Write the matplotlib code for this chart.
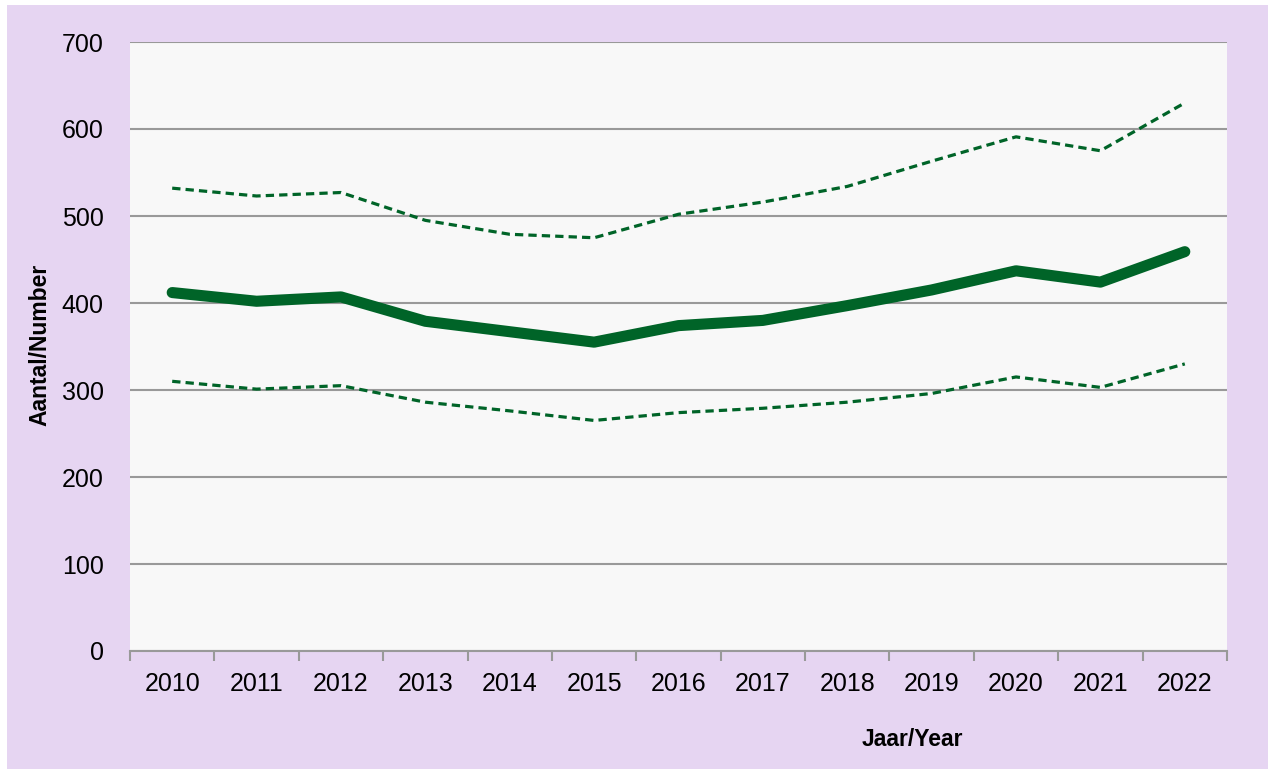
import matplotlib
matplotlib.use("Agg")
import matplotlib.pyplot as plt
from matplotlib.patches import Rectangle

years = ["2010", "2011", "2012", "2013", "2014", "2015", "2016", "2017", "2018", "2019", "2020", "2021", "2022"]
main = [412, 402, 407, 379, 367, 355, 374, 380, 397, 415, 437, 424, 459]
upper = [532, 523, 527, 495, 479, 475, 502, 516, 534, 563, 591, 575, 630]
lower = [310, 301, 305, 286, 276, 265, 274, 279, 286, 296, 315, 303, 330]

plt.rcParams['font.family'] = ['Liberation Sans', 'DejaVu Sans']

W, H = 1268, 769
fig = plt.figure(figsize=(W / 100, H / 100), dpi=100)
fig.patch.set_facecolor('white')
fig.patches.append(Rectangle((7 / W, 0), 1 - 7 / W, 1 - 5 / H, transform=fig.transFigure,
                             facecolor='#e6d5f2', edgecolor='none', zorder=-10))

ax = fig.add_axes([130 / W, 1 - 651 / H, (1227 - 130) / W, (651 - 42) / H])
ax.set_zorder(5)
ax.set_facecolor('#f8f8f8')
x = list(range(len(years)))
green = '#006428'
ax.plot(x, upper, color=green, lw=2.3, ls=(0, (2.6, 1.6)))
ax.plot(x, lower, color=green, lw=2.3, ls=(0, (2.6, 1.6)))
ax.plot(x, main, color=green, lw=8, solid_capstyle='round', solid_joinstyle='round')

ax.set_xlim(-0.5, len(years) - 0.5)
ax.set_ylim(0, 700)
ax.set_yticks(range(0, 701, 100))
ax.yaxis.grid(True, color='#999999', lw=1.5)
ax.set_axisbelow(True)
for s in ['top', 'right', 'left']:
    ax.spines[s].set_visible(False)
ax.spines['bottom'].set_color('#999999')
ax.spines['bottom'].set_linewidth(1.5)
ax.tick_params(axis='y', length=0, labelsize=18, pad=19)
ax.set_xticks(x)
ax.set_xticklabels(years)
ax.set_xticks([i - 0.5 for i in range(len(years) + 1)], minor=True)
ax.tick_params(axis='x', which='major', length=0, labelsize=18, pad=15)
ax.tick_params(axis='x', which='minor', length=7, width=1.5, color='#999999')

fig.text(40 / W, 1 - 345 / H, 'Aantal/Number', rotation=90, ha='center', va='center',
         fontsize=16.5, fontweight='bold')
fig.text(912 / W, 1 - 740 / H, 'Jaar/Year', ha='center', va='center',
         fontsize=16.5, fontweight='bold')

fig.savefig('out.png', dpi=100)
